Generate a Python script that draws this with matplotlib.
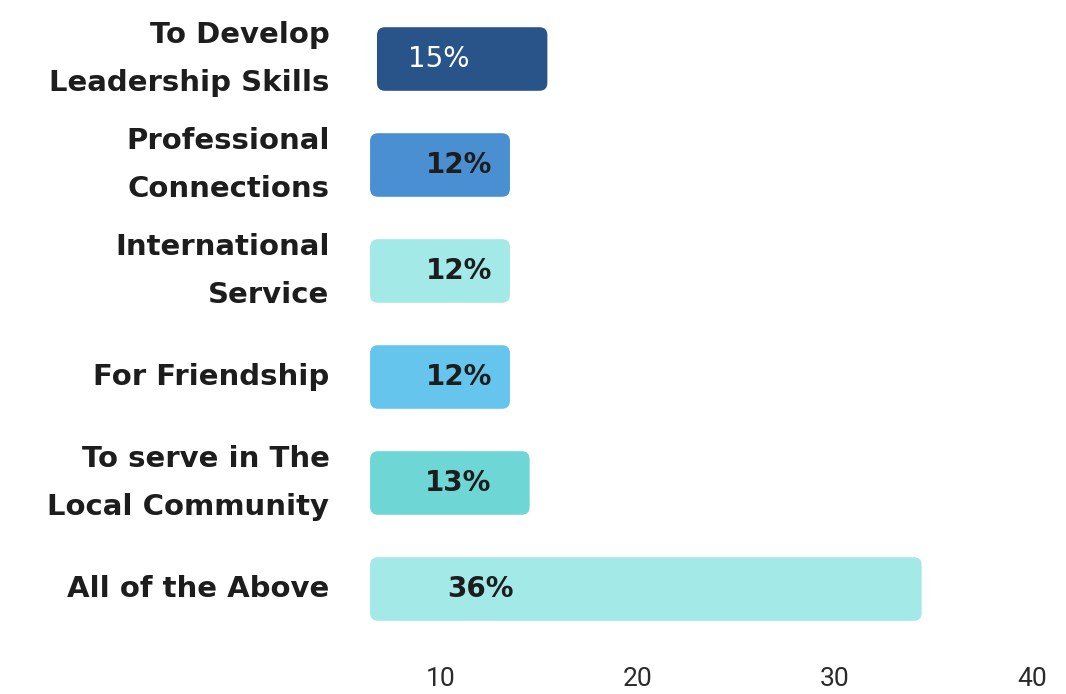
import matplotlib
matplotlib.use("Agg")
import matplotlib.pyplot as plt
from matplotlib.patches import FancyBboxPatch

# chart data
categories = ["To Develop\nLeadership Skills", "Professional\nConnections",
              "International\nService", "For Friendship",
              "To serve in The\nLocal Community", "All of the Above"]
pct_labels = ["15%", "12%", "12%", "12%", "13%", "36%"]
bar_start = [6.75, 6.4, 6.4, 6.4, 6.4, 6.4]
bar_end = [15.4, 13.5, 13.5, 13.5, 14.5, 34.4]
x_ticks = [10, 20, 30, 40]

colors = ["#28548a", "#4a8fd1", "#a2e9e7", "#65c5ec", "#6fd6d6", "#a2e9e7"]
label_colors = ["white", "#1d1d1d", "#1d1d1d", "#1d1d1d", "#1d1d1d", "#1d1d1d"]
label_weights = ["normal", "bold", "bold", "bold", "bold", "bold"]
label_shift = [3.15, 4.5, 4.5, 4.5, 4.45, 5.6]  # label centre, units right of bar start

W, H = 1066, 694
fig = plt.figure(figsize=(W / 100, H / 100), dpi=100)
ax = fig.add_axes([360 / W, (H - 642) / H, 706 / W, 636 / H])

xmin = 10 - 81 / 19.7
xmax = 10 + 625 / 19.7
ax.set_xlim(xmin, xmax)
ax.set_ylim(5.5, -0.5)

# px per data unit, used to keep the corner radius round
px_x = 706 / (xmax - xmin)
px_y = 636 / 6.0
bar_h = 0.6

for i in range(len(categories)):
    box = FancyBboxPatch((bar_start[i], i - bar_h / 2), bar_end[i] - bar_start[i], bar_h,
                         boxstyle="round,pad=0,rounding_size=%f" % (8 / px_x),
                         mutation_aspect=px_x / px_y,
                         facecolor=colors[i], edgecolor="none")
    ax.add_patch(box)
    ax.text(bar_start[i] + label_shift[i], i, pct_labels[i], ha="center", va="center",
            fontsize=20, color=label_colors[i], fontweight=label_weights[i],
            family="DejaVu Sans")

ax.set_yticks(range(len(categories)))
ax.set_yticklabels(categories, fontsize=21, fontweight="bold", family="DejaVu Sans",
                   color="#1d1d1d", multialignment="right", linespacing=1.9,
                   va="center")
ax.set_xticks(x_ticks)
ax.set_xticklabels([str(t) for t in x_ticks], fontsize=19, family="Roboto",
                   color="#2a2a2a")
ax.tick_params(axis="both", length=0)
ax.tick_params(axis="y", pad=22)
ax.tick_params(axis="x", pad=18)
for s in ax.spines.values():
    s.set_visible(False)

fig.savefig("out.png", dpi=100)
